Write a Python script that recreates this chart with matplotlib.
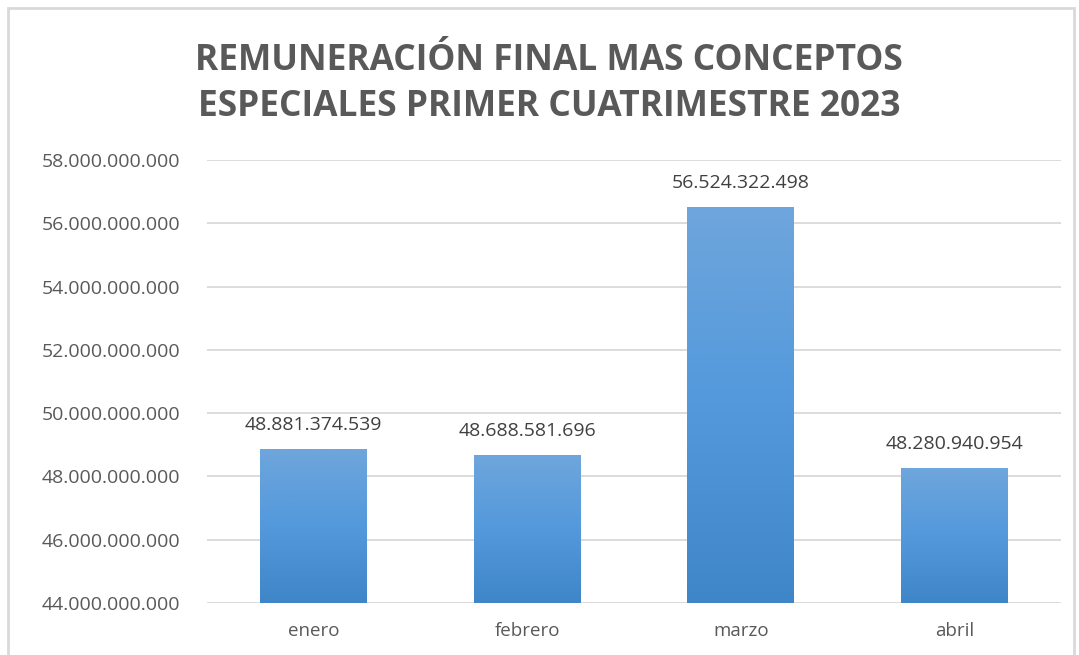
import matplotlib.pyplot as plt
import numpy as np
from matplotlib.colors import LinearSegmentedColormap
from matplotlib.ticker import FuncFormatter
from matplotlib.patches import Rectangle

meses = ['enero', 'febrero', 'marzo', 'abril']
valores = [48881374539, 48688581696, 56524322498, 48280940954]
etiquetas = ['48.881.374.539', '48.688.581.696', '56.524.322.498', '48.280.940.954']
titulo = 'REMUNERACIÓN FINAL MAS CONCEPTOS\nESPECIALES PRIMER CUATRIMESTRE 2023'

plt.rcParams['font.family'] = ['Open Sans', 'DejaVu Sans']
gris = '#595959'

fig = plt.figure(figsize=(10.79, 6.55), dpi=100)
ax = fig.add_axes([207/1079, 1 - 603/655, 854/1079, (603-160)/655])

# marco del gráfico
fig.patches.append(Rectangle((8/1079, -0.01), 1066/1079, 1 - 8/655 + 0.01,
                             transform=fig.transFigure, fill=False,
                             edgecolor='#d9d9d9', linewidth=2))

x = np.arange(len(meses))
bars = ax.bar(x, valores, width=0.5, color='none', zorder=3)
ax.set_xlim(-0.5, 3.5)
ax.set_ylim(44e9, 58e9)

cmap = LinearSegmentedColormap.from_list('azul', ['#3f86c8', '#5399dc', '#6fa6dc'])
grad = np.linspace(0, 1, 256).reshape(-1, 1)
for b in bars:
    x0, w, h = b.get_x(), b.get_width(), b.get_height()
    im = ax.imshow(grad, cmap=cmap, origin='lower', aspect='auto',
                   extent=[x0, x0 + w, 44e9, h], zorder=3)
    im.set_clip_path(b)

for xi, v, t in zip(x, valores, etiquetas):
    ax.text(xi, v + 0.45e9, t, ha='center', va='bottom', fontsize=14, color='#404040')

ax.set_yticks(np.arange(44e9, 58e9 + 1, 2e9))
ax.yaxis.set_major_formatter(FuncFormatter(lambda v, p: f'{int(v):,}'.replace(',', '.')))
ax.set_xticks(x)
ax.set_xticklabels(meses)
ax.tick_params(axis='both', length=0, labelsize=13, colors=gris)
ax.tick_params(axis='y', labelsize=14, pad=19)
ax.tick_params(axis='x', labelsize=13.5, pad=14)
ax.grid(axis='y', color='#d9d9d9', linewidth=1.3, zorder=0)
for s in ax.spines.values():
    s.set_visible(False)

fig.text(549/1079, 1 - 84/655, titulo, ha='center', va='center', fontsize=25.5,
         fontweight='bold', color=gris, linespacing=1.4)

fig.savefig('out.png', dpi=100)
